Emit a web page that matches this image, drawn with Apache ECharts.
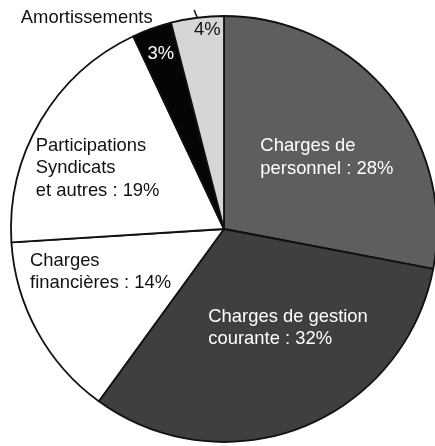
<!DOCTYPE html>
<html>
<head>
<meta charset="utf-8">
<script src="https://cdn.jsdelivr.net/npm/echarts@6/dist/echarts.min.js"></script>
<style>
html,body{margin:0;padding:0;background:#fff;}
#chart{width:435px;height:446px;}
</style>
</head>
<body>
<div id="chart"></div>
<script>
// postes de charges (sens horaire depuis midi)
var names = ['Charges de personnel', 'Charges de gestion courante', 'Charges financières',
	'Participations Syndicats et autres', 'Amortissements', 'Autres'];
var values = [28, 32, 14, 19, 3, 4];
var labels = ['Charges de\npersonnel : 28%', 'Charges de gestion\ncourante : 32%', 'Charges\nfinancières : 14%',
	'Participations\nSyndicats\net autres : 19%', '3%', '4%'];

var fills = ['#5e5e5e', '#3f3f3f', '#ffffff', '#ffffff', '#050505', '#d6d6d6'];
var textColors = ['#fff', '#fff', '#111', '#111', '#fff', '#111'];
// decalage des etiquettes interieures
var shift = [[-48, -2], [-56, -3], [-98, -10], [-94, -5], [-26, -72], [-3, -90]];
var leftAlign = [true, true, true, true, false, false];

var myChart = echarts.init(document.getElementById('chart'));

var mainData = [];
var overData = [];
for (var i = 0; i < values.length; i++) {
	mainData.push({
		value: values[i],
		name: names[i],
		itemStyle: { color: fills[i] },
		label: { color: textColors[i] }
	});
	overData.push({
		value: values[i],
		name: names[i],
		label: { show: i == 4 || i == 5 },
		labelLine: { show: i == 5 }
	});
}
overData[5].labelLine = { show: true, length: 25, length2: 0 };

var option = {
	backgroundColor: '#fff',
	animation: false,
	series: [{
		type: 'pie',
		center: [224, 229],
		radius: [0, 213],
		startAngle: 90,
		clockwise: true,
		silent: true,
		itemStyle: {
			borderColor: '#111',
			borderWidth: 1.8
		},
		label: {
			show: true,
			position: 'inside',
			fontFamily: 'Liberation Sans',
			fontSize: 18.4,
			lineHeight: 22.5,
			overflow: 'none',
			formatter: function(p) { return labels[p.dataIndex]; }
		},
		labelLine: { show: false },
		labelLayout: function(p) {
			var s = shift[p.dataIndex];
			var o = { dx: s[0], dy: s[1] };
			if (leftAlign[p.dataIndex]) o.align = 'left';
			return o;
		},
		data: mainData
	}, {
		type: 'pie',
		center: [224, 229],
		radius: [0, 213],
		startAngle: 90,
		clockwise: true,
		silent: true,
		itemStyle: { color: 'transparent', borderWidth: 0 },
		label: {
			position: 'outside',
			fontFamily: 'Liberation Sans',
			fontSize: 18.4,
			color: '#111',
			overflow: 'none',
			edgeDistance: 0,
			formatter: function(p) { return p.dataIndex == 4 ? p.name : ' '; }
		},
		labelLine: {
			length: 0,
			length2: 0,
			lineStyle: { color: '#111', width: 1.5 }
		},
		labelLayout: function(p) {
			if (p.dataIndex == 4) return { dx: 22, dy: -12 };
			return {};
		},
		emphasis: { disabled: true },
		data: overData
	}]
};
myChart.setOption(option);
</script>
</body>
</html>
